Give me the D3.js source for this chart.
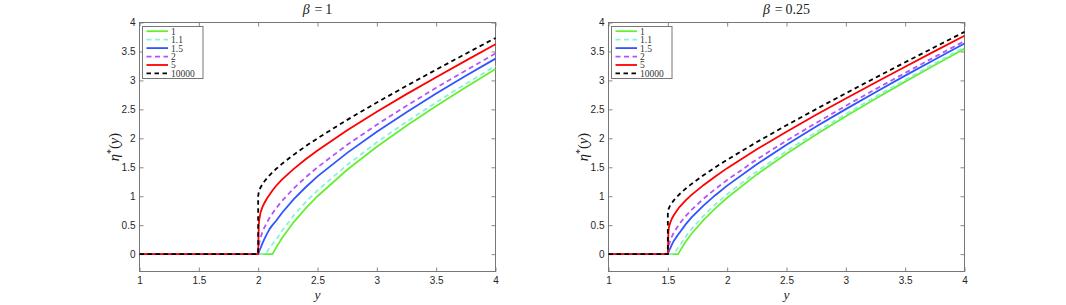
<!DOCTYPE html>
<html>
<head>
<meta charset="utf-8">
<script src="https://cdn.jsdelivr.net/npm/d3@7"></script>
<style>
body { margin: 0; background: #fff; }
svg { display: block; }
</style>
</head>
<body>
<script>
// legend entries (parameter p of each curve)
var pLabels = ["1", "1.1", "1.5", "2", "5", "10000"];
var titles = ["1", "0.25"];
var xTicks = [1, 1.5, 2, 2.5, 3, 3.5, 4];
var yTicks = [0, 0.5, 1, 1.5, 2, 2.5, 3, 3.5, 4];

// left panel, beta = 1
var yB1 = [1, 2, 2, 2.005, 2.01, 2.02, 2.035, 2.05, 2.075, 2.1, 2.12, 2.15, 2.2, 2.3, 2.4, 2.5, 2.75, 3, 3.25, 3.5, 3.75, 4];
var b1_p1 = [0, 0, 0, 0, 0, 0, 0, 0, 0, 0, 0, 0.1085, 0.2748, 0.5537, 0.79, 1.0, 1.4562, 1.8541, 2.2176, 2.5584, 2.8832, 3.1962];
var b1_p11 = [0, 0, 0, 0, 0, 0, 0, 0, 0.04, 0.12, 0.17, 0.245, 0.403, 0.67, 0.897, 1.1, 1.542, 1.931, 2.286, 2.621, 2.941, 3.25];
var b1_p15 = [0, 0, 0, 0.03, 0.06, 0.105, 0.18, 0.25, 0.354, 0.445, 0.5, 0.571, 0.711, 0.95, 1.155, 1.342, 1.749, 2.114, 2.452, 2.772, 3.08, 3.376];
var b1_p2 = [0, 0, 0, 0.1415, 0.2003, 0.2836, 0.3758, 0.45, 0.5528, 0.6403, 0.7032, 0.789, 0.9165, 1.1358, 1.3267, 1.5, 1.8875, 2.2361, 2.5617, 2.8723, 3.1721, 3.4641];
var b1_p5 = [0, 0, 0, 0.51, 0.607, 0.72, 0.807, 0.874, 0.964, 1.04, 1.1, 1.177, 1.286, 1.473, 1.638, 1.79, 2.14, 2.46, 2.763, 3.056, 3.341, 3.623];
var b1_pInf = [0, 0, 1, 1.0733, 1.1051, 1.1518, 1.2054, 1.25, 1.3139, 1.3702, 1.4116, 1.4695, 1.5583, 1.7179, 1.8633, 2.0, 2.3187, 2.618, 2.9059, 3.1861, 3.4611, 3.7321];

// right panel, beta = 0.25
var yB025 = [1, 1.5, 1.5, 1.505, 1.51, 1.52, 1.535, 1.55, 1.587, 1.6, 1.65, 1.7, 1.8, 1.9, 2, 2.25, 2.5, 2.75, 3, 3.25, 3.5, 3.75, 4];
var b025_p1 = [0, 0, 0, 0, 0, 0, 0, 0, 0, 0.0473, 0.2126, 0.3522, 0.5887, 0.7917, 0.9741, 1.3768, 1.7348, 2.0668, 2.3817, 2.6847, 2.979, 3.2665, 3.5488];
var b025_p11 = [0, 0, 0, 0, 0, 0, 0, 0.015, 0.11, 0.144, 0.301, 0.435, 0.662, 0.858, 1.035, 1.428, 1.78, 2.107, 2.418, 2.718, 3.009, 3.295, 3.575];
var b025_p15 = [0, 0, 0, 0.031, 0.054, 0.1, 0.169, 0.229, 0.339, 0.375, 0.514, 0.633, 0.838, 1.018, 1.183, 1.553, 1.889, 2.203, 2.504, 2.796, 3.082, 3.362, 3.637];
var b025_p2 = [0, 0, 0, 0.1156, 0.1637, 0.2321, 0.3081, 0.3696, 0.4919, 0.5289, 0.6551, 0.7646, 0.9558, 1.1251, 1.2809, 1.6351, 1.9596, 2.2665, 2.5617, 2.8488, 3.1298, 3.4062, 3.679];
var b025_p5 = [0, 0, 0, 0.391, 0.469, 0.542, 0.616, 0.672, 0.783, 0.817, 0.928, 1.024, 1.191, 1.342, 1.485, 1.811, 2.115, 2.406, 2.688, 2.965, 3.237, 3.506, 3.772];
var b025_pInf = [0, 0, 0.7071, 0.7711, 0.7992, 0.8406, 0.8886, 0.9288, 1.0122, 1.0383, 1.1299, 1.2124, 1.3621, 1.4996, 1.6297, 1.9354, 2.2248, 2.5045, 2.7781, 3.0472, 3.3132, 3.5767, 3.8384];

var colors = ["#66ee33", "#88f2dc", "#2f55ff", "#b552ff", "#ff0000", "#000000"];
var dashes = [null, "5,3.5", null, "5,3.5", null, "4.5,3.5"];

var serif = "'Liberation Serif', 'DejaVu Serif', serif";
var sans = "'Liberation Sans', Arial, sans-serif";

var svg = d3.select("body").append("svg")
	.attr("width", 1066)
	.attr("height", 305);
svg.append("rect").attr("width", 1066).attr("height", 305).attr("fill", "#fff");

drawPanel(139.5, titles[0], yB1, [b1_p1, b1_p11, b1_p15, b1_p2, b1_p5, b1_pInf]);
drawPanel(608.5, titles[1], yB025, [b025_p1, b025_p11, b025_p15, b025_p2, b025_p5, b025_pInf]);

function styleAxis(sel){
	sel.select(".domain").remove();
	sel.selectAll(".tick line").attr("stroke", "#888").attr("stroke-width", 1);
	sel.selectAll(".tick text").attr("fill", "#262626").style("font-family", sans).style("font-size", "10px");
}

function drawPanel(left, title, xs, series){
	var w = 356;
	var x = d3.scaleLinear().domain([1, 4]).range([left, left + w]);
	var y = d3.scaleLinear().domain([-0.3, 4]).range([271.5, 22.5]);
	var g = svg.append("g");

	// ticks on all four sides, pointing in
	g.append("g").attr("transform", "translate(0,271.5)")
		.call(d3.axisBottom(x).tickValues(xTicks).tickFormat(function(d){ return String(d); })
			.tickSizeInner(-4).tickSizeOuter(0).tickPadding(5.5))
		.call(styleAxis);
	g.append("g").attr("transform", "translate(0,22.5)")
		.call(d3.axisTop(x).tickValues(xTicks).tickFormat("").tickSizeInner(-4).tickSizeOuter(0))
		.call(styleAxis);
	g.append("g").attr("transform", "translate(" + left + ",0)")
		.call(d3.axisLeft(y).tickValues(yTicks).tickFormat(function(d){ return String(d); })
			.tickSizeInner(-4).tickSizeOuter(0).tickPadding(4))
		.call(styleAxis);
	g.append("g").attr("transform", "translate(" + (left + w) + ",0)")
		.call(d3.axisRight(y).tickValues(yTicks).tickFormat("").tickSizeInner(-4).tickSizeOuter(0))
		.call(styleAxis);

	g.append("rect")
		.attr("x", left).attr("y", 22.5)
		.attr("width", w).attr("height", 249)
		.attr("fill", "none").attr("stroke", "#777").attr("stroke-width", 1);

	var line = d3.line()
		.x(function(d, i){ return x(xs[i]); })
		.y(function(d){ return y(d); });

	series.forEach(function(s, k){
		g.append("path")
			.attr("d", line(s))
			.attr("fill", "none")
			.attr("stroke", colors[k])
			.attr("stroke-width", 1.8)
			.attr("stroke-dasharray", dashes[k]);
	});

	// legend (rows are tight, as in the original)
	var lg = g.append("g");
	lg.append("rect")
		.attr("x", left + 3).attr("y", 26.5)
		.attr("width", 60.5).attr("height", 52)
		.attr("fill", "#fff").attr("stroke", "#777").attr("stroke-width", 1);
	pLabels.forEach(function(lab, k){
		var ry = 31.2 + k * 8.45;
		lg.append("line")
			.attr("x1", left + 7).attr("x2", left + 28.5)
			.attr("y1", ry).attr("y2", ry)
			.attr("stroke", colors[k]).attr("stroke-width", 1.8)
			.attr("stroke-dasharray", dashes[k]);
		lg.append("text")
			.attr("x", left + 31.5).attr("y", ry + 3.4)
			.style("font-family", serif).style("font-size", "9.5px")
			.attr("fill", "#333")
			.text(lab);
	});

	// title
	var t = g.append("text")
		.attr("x", left + w / 2).attr("y", 14)
		.attr("text-anchor", "middle")
		.style("font-family", serif).style("font-size", "14px")
		.attr("fill", "#222");
	t.append("tspan").style("font-style", "italic").text("β");
	t.append("tspan").text("\u2009=\u2009" + title).attr("dx", 2).style("word-spacing", "2px");

	// axis labels
	g.append("text")
		.attr("x", left + w / 2).attr("y", 298.5)
		.attr("text-anchor", "middle")
		.style("font-family", serif).style("font-size", "13.5px").style("font-style", "italic")
		.attr("fill", "#222")
		.text("y");

	var yl = g.append("text")
		.attr("transform", "translate(" + (left - 21) + ",147) rotate(-90)")
		.attr("text-anchor", "middle")
		.style("font-family", serif).style("font-size", "14.5px")
		.attr("fill", "#222");
	yl.append("tspan").style("font-style", "italic").text("η");
	yl.append("tspan").attr("dy", -5).style("font-size", "10px").text("*");
	yl.append("tspan").attr("dy", 5).text("(");
	yl.append("tspan").style("font-style", "italic").text("y");
	yl.append("tspan").text(")");
}
</script>
</body>
</html>
